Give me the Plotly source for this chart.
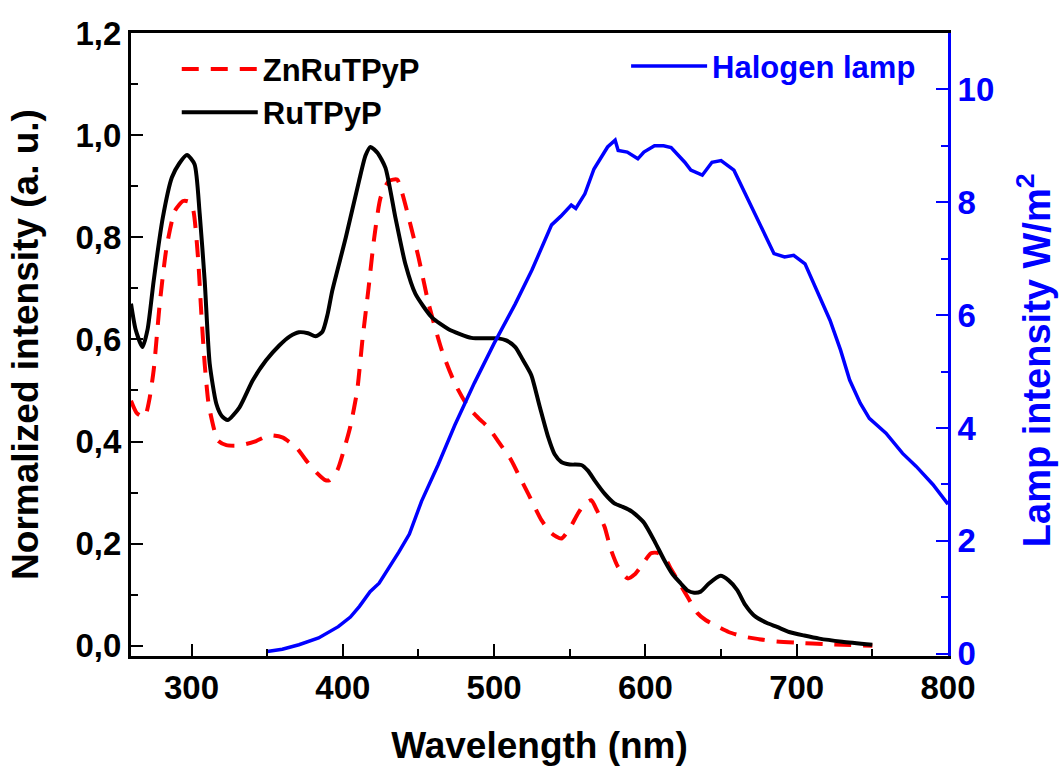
import plotly.graph_objects as go

# ZnRuTPyP (red dashed)
zn_x = [260, 264, 269, 272, 275, 279, 283.5, 289, 294.4, 298, 301, 304.3, 306.5, 308.7, 311, 312.5,
        317.4, 323, 330, 336, 342.7, 351.4, 360, 369, 376.6, 383, 388, 391, 396.4, 401.9, 405, 409.5,
        413, 417, 420.5, 425, 430.4, 435.9, 439.2, 444.6, 450.1, 456.7, 465.5, 474.2, 483, 490, 496,
        504, 511.4, 517, 522.5, 531.3, 538, 544.4, 550, 555.4, 560, 564.2, 568, 573, 577, 581.8, 588.3,
        593, 597, 603.7, 608, 612.4, 617, 621.2, 628, 634.4, 640, 647.5, 655, 665, 675, 685, 700, 720, 750]
zn_y = [0.48, 0.455, 0.448, 0.48, 0.54, 0.67, 0.78, 0.852, 0.871, 0.87, 0.855, 0.76, 0.65, 0.552, 0.48, 0.455,
        0.402, 0.393, 0.392, 0.395, 0.401, 0.412, 0.408, 0.389, 0.36, 0.338, 0.325, 0.324, 0.344, 0.396, 0.43, 0.5,
        0.6, 0.7, 0.793, 0.878, 0.91, 0.913, 0.887, 0.826, 0.76, 0.67, 0.578, 0.513, 0.467, 0.445, 0.428,
        0.395, 0.363, 0.33, 0.298, 0.246, 0.22, 0.21, 0.23, 0.259, 0.278, 0.285, 0.265, 0.233, 0.19, 0.155, 0.132,
        0.14, 0.155, 0.181, 0.182, 0.174, 0.15, 0.129, 0.095, 0.064, 0.05, 0.038, 0.027, 0.018, 0.013, 0.009, 0.006, 0.003, 0.0]

# RuTPyP (black solid)
ru_x = [260, 263, 267.6, 271, 275, 281, 287, 292, 297, 302, 305.4, 308.7, 312, 316.4, 320, 324, 331.7, 340.5,
        349.3, 358, 365, 371, 377, 382, 386.5, 390, 393, 402, 410.7, 415, 418.3, 423, 428.2, 434.8, 441.4, 448,
        458.9, 469.9, 485, 495, 502.8, 508, 514, 519, 524.6, 530, 535.7, 540, 544.4, 550, 557.6, 562, 566.4, 573,
        579.5, 585, 590.5, 595, 599.3, 606, 612.4, 618, 623.4, 628, 632.2, 636.5, 642, 649.7, 655, 660.7, 666,
        671.6, 680, 687, 695, 705, 715, 730, 750]
ru_y = [0.67, 0.62, 0.585, 0.62, 0.715, 0.838, 0.917, 0.945, 0.961, 0.943, 0.846, 0.715, 0.553, 0.474, 0.45, 0.442, 0.467, 0.52,
        0.559, 0.588, 0.606, 0.614, 0.612, 0.606, 0.615, 0.65, 0.695, 0.8, 0.91, 0.96, 0.977, 0.965, 0.936, 0.838, 0.747, 0.689,
        0.643, 0.62, 0.603, 0.602, 0.602, 0.598, 0.585, 0.56, 0.53, 0.47, 0.409, 0.375, 0.36, 0.355, 0.354, 0.343, 0.324, 0.298,
        0.279, 0.272, 0.264, 0.253, 0.24, 0.205, 0.168, 0.14, 0.122, 0.108, 0.104, 0.106, 0.122, 0.137, 0.128, 0.109, 0.08,
        0.06, 0.045, 0.037, 0.027, 0.02, 0.014, 0.008, 0.002]

# Halogen lamp (blue, right axis)
lamp_x = [350, 360, 371, 384, 397, 405, 411, 418, 424, 430, 437, 444, 452, 463, 474, 487, 500, 514, 525, 538,
          544, 551, 554, 560, 566, 575, 580, 582, 588, 595, 599, 606, 612, 617, 621, 626, 630, 637.6, 644, 650,
          658.5, 665, 672, 678, 685, 692, 698, 705.5, 713, 722, 729, 735, 742, 748, 759, 770, 779, 790, 800]
lamp_y = [0.04, 0.08, 0.16, 0.28, 0.48, 0.65, 0.84, 1.1, 1.25, 1.5, 1.8, 2.12, 2.7, 3.35, 4.05, 4.8, 5.5, 6.2, 6.8, 7.6,
          7.75, 7.95, 7.89, 8.15, 8.59, 8.98, 9.1, 8.92, 8.89, 8.77, 8.89, 9.0, 9.0, 8.97, 8.86, 8.71, 8.57, 8.48, 8.71, 8.74,
          8.57, 8.21, 7.8, 7.5, 7.09, 7.03, 7.06, 6.91, 6.44, 5.91, 5.38, 4.85, 4.44, 4.17, 3.91, 3.55, 3.32, 3.0, 2.65]

FONT = "Liberation Sans, Arial, sans-serif"
BLUE = "#0000ff"

fig = go.Figure()
fig.add_trace(go.Scatter(x=zn_x, y=zn_y, mode="lines", name="ZnRuTPyP",
                         line=dict(color="#ff0000", width=4, dash="17px,12px", shape="spline", smoothing=0.6),
                         legend="legend"))
fig.add_trace(go.Scatter(x=ru_x, y=ru_y, mode="lines", name="RuTPyP",
                         line=dict(color="#000000", width=4, shape="spline", smoothing=0.6),
                         legend="legend"))
fig.add_trace(go.Scatter(x=lamp_x, y=lamp_y, mode="lines", name="Halogen lamp", yaxis="y2",
                         line=dict(color=BLUE, width=3.5), legend="legend2"))

fig.update_layout(
    width=1064, height=771,
    margin=dict(l=131, r=113, t=33, b=114),
    paper_bgcolor="white", plot_bgcolor="white",
    separators=",.",
    font=dict(family=FONT, size=30, color="black", weight="bold"),
    xaxis=dict(range=[260, 800], tickvals=[300, 400, 500, 600, 700, 800],
               ticks="inside", ticklen=12, tickwidth=2, tickcolor="black",
               minor=dict(dtick=50, tick0=0, ticks="inside", ticklen=7, tickwidth=2, tickcolor="black"),
               showline=True, linewidth=3, linecolor="black", mirror=True,
               showgrid=False, zeroline=False,
               tickfont=dict(family=FONT, size=33, color="black", weight="bold"),
               title=dict(text="Wavelength (nm)", standoff=28,
                          font=dict(family=FONT, size=37, color="black", weight="bold"))),
    yaxis=dict(range=[-0.02, 1.2], tickvals=[0, 0.2, 0.4, 0.6, 0.8, 1.0, 1.2], tickformat=".1f",
               ticks="inside", ticklen=12, tickwidth=2, tickcolor="black",
               minor=dict(dtick=0.1, tick0=0, ticks="inside", ticklen=7, tickwidth=2, tickcolor="black"),
               showline=True, linewidth=3, linecolor="black",
               showgrid=False, zeroline=False,
               tickfont=dict(family=FONT, size=33, color="black", weight="bold"),
               title=dict(text="Normalized intensity (a. u.)", standoff=26,
                          font=dict(family=FONT, size=37, color="black", weight="bold"))),
    yaxis2=dict(range=[-0.04, 11], tickvals=[0, 2, 4, 6, 8, 10], overlaying="y", side="right",
                ticks="inside", ticklen=12, tickwidth=2, tickcolor=BLUE,
                minor=dict(dtick=1, tick0=0, ticks="inside", ticklen=7, tickwidth=2, tickcolor=BLUE),
                showline=True, linewidth=3, linecolor=BLUE,
                showgrid=False, zeroline=False,
                tickfont=dict(family=FONT, size=33, color=BLUE, weight="bold"),
                title=dict(text="Lamp intensity W/m<sup>2</sup>&nbsp;&nbsp;&nbsp;", standoff=31,
                           font=dict(family=FONT, size=38, color=BLUE, weight="bold"))),
    legend=dict(x=0.056, y=0.985, xanchor="left", yanchor="top", bgcolor="rgba(0,0,0,0)",
                font=dict(family=FONT, size=31, color="black", weight="bold"),
                itemwidth=76, tracegroupgap=0),
    legend2=dict(x=0.606, y=0.99, xanchor="left", yanchor="top", bgcolor="rgba(0,0,0,0)",
                 font=dict(family=FONT, size=31, color=BLUE, weight="bold"),
                 itemwidth=76),
)

fig.write_html("out.html")
